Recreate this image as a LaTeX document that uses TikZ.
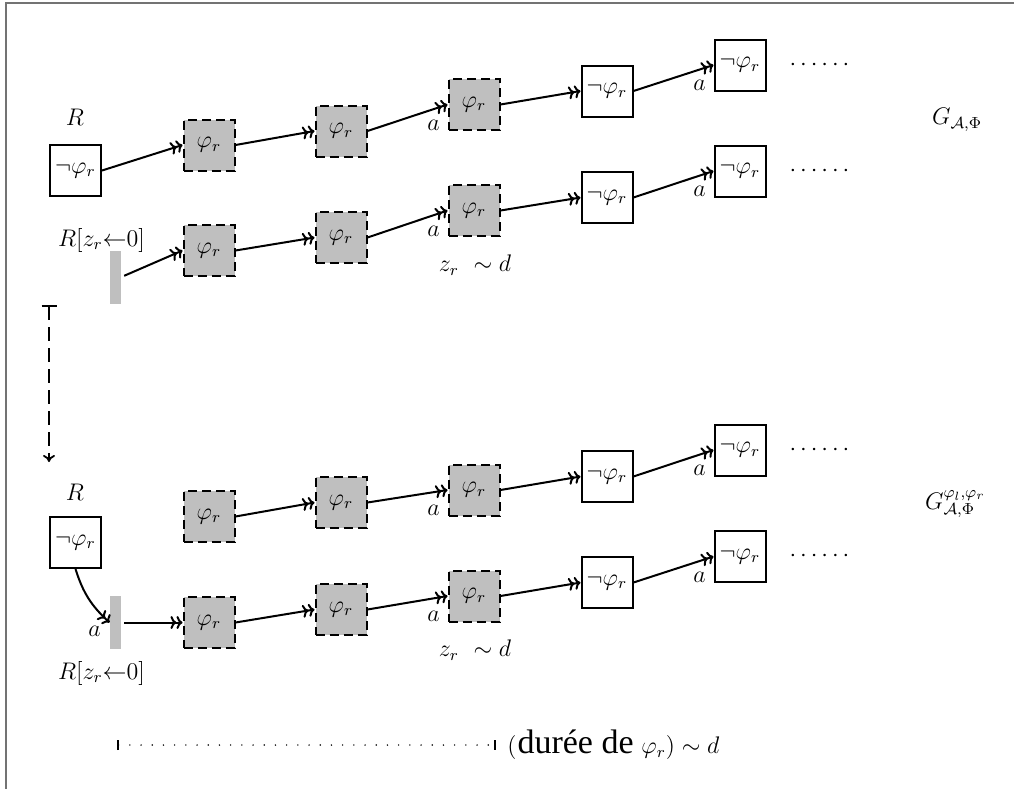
\documentclass[tikz,border=0pt]{standalone}
\usepackage{fontspec}
\newfontfamily\durfont{Liberation Serif}
\usetikzlibrary{arrows.meta}
\begin{document}
\begin{tikzpicture}[x=0.5pt,y=-0.5pt,
  every node/.style={font=\fontsize{12}{14}\selectfont},
  negbox/.style={draw, line width=1pt, fill=white, minimum size=25.5pt, inner sep=0pt},
  posbox/.style={negbox, fill=black!25, dash pattern=on 4.5pt off 2.5pt},
  zbar/.style={fill=black!25, minimum width=5.5pt, minimum height=26.5pt, inner sep=0pt},
  arr/.style={-{To[length=3pt,width=6.5pt] To[length=3pt,width=6.5pt]}, line width=1pt},
  lab/.style={inner sep=0pt},
  frameline/.style={draw=black!55, line width=1pt}
]
\useasboundingbox (0,0) rectangle (1014,789);
% frame remnants
\coordinate (f0) at (6,3);
\coordinate (f1) at (1014,3);
\coordinate (f2) at (6,789);
\draw[frameline] (f1) -- (f0) -- (f2);

% four rows of states
\foreach \r/\ya/\yb/\yc/\yd/\ye in {1/145/131/104.5/91/65, 2/250.5/237.5/210.5/197.5/171, 3/516.5/502.5/490/476.5/450, 4/622.5/609.5/596/582.5/556.5} {
  \node[posbox] (b\r1) at (209,\ya) {$\varphi_r$};
  \node[posbox] (b\r2) at (341,\yb) {$\varphi_r$};
  \node[posbox] (b\r3) at (474,\yc) {$\varphi_r$};
  \node[negbox] (b\r4) at (607,\yd) {$\neg\varphi_r$};
  \node[negbox] (b\r5) at (740,\ye) {$\neg\varphi_r$};
  \node (d\r) at (819.5,\ye) {$\cdots\cdots$};
  \draw[arr] (b\r1.east) -- (b\r2.west);
  \draw[arr] (b\r2.east) -- node[lab, at end, xshift=-7pt, yshift=-10.25pt] {$a$} (b\r3.west);
  \draw[arr] (b\r3.east) -- (b\r4.west);
  \draw[arr] (b\r4.east) -- node[lab, at end, xshift=-7pt, yshift=-10.25pt] {$a$} (b\r5.west);
}

% top part
\node[negbox] (R1) at (75.5,170.5) {$\neg\varphi_r$};
\node (R1t) at (75,117) {$R$};
\draw[arr] (R1.east) -- (b11.west);
\node[zbar] (z2) at (115.5,277) {};
\node (z2t) at (101.5,240) {$R[z_r{\leftarrow}0]$};
\draw[arr, shorten <=1.5pt] (z2.east) -- (b21.west);
\node (zd2) at (475,265) {$z_r\ \sim d$};
\node[anchor=base west] (G1) at (925,124.5) {$G_{\mathcal{A},\Phi}$};

% transition arrow
\coordinate (vs) at (49,305);
\coordinate (ve) at (49,462);
\draw[line width=0.9pt, dash pattern=on 7pt off 3.5pt, {Bar[width=7.5pt]}-{To[length=3.5pt,width=6pt]}] (vs) -- (ve);

% bottom part
\node[negbox] (R4) at (75.5,542.5) {$\neg\varphi_r$};
\node (R4t) at (75,492) {$R$};
\node[zbar] (z4) at (115.5,622.5) {};
\node (z4t) at (101.5,673) {$R[z_r{\leftarrow}0]$};
\draw[arr] (R4.south) to[bend right=15] node[lab, at end, xshift=-7.5pt, yshift=-4.5pt] {$a$} (z4.west);
\draw[arr, shorten <=1.5pt] (z4.east) -- (b41.west);
\node (zd4) at (475,650) {$z_r\ \sim d$};
\node[anchor=base west] (G2) at (918,509) {$G^{\varphi_l,\varphi_r}_{\mathcal{A},\Phi}$};

% duration scale
\coordinate (l1) at (117,745);
\coordinate (l2) at (496,745);
\draw[line width=0.8pt, line cap=round, dash pattern=on 0pt off 5.6pt, {Bar[width=5pt,line width=1.1pt]}-{Bar[width=5pt,line width=1.1pt]}] (l1) -- (l2);
\node[anchor=west, inner sep=0pt] (dur) at (507,745) {$($\kern0.5pt{\durfont\fontsize{17}{20}\selectfont durée de} $\varphi_r) \sim d$};
\end{tikzpicture}
\end{document}
